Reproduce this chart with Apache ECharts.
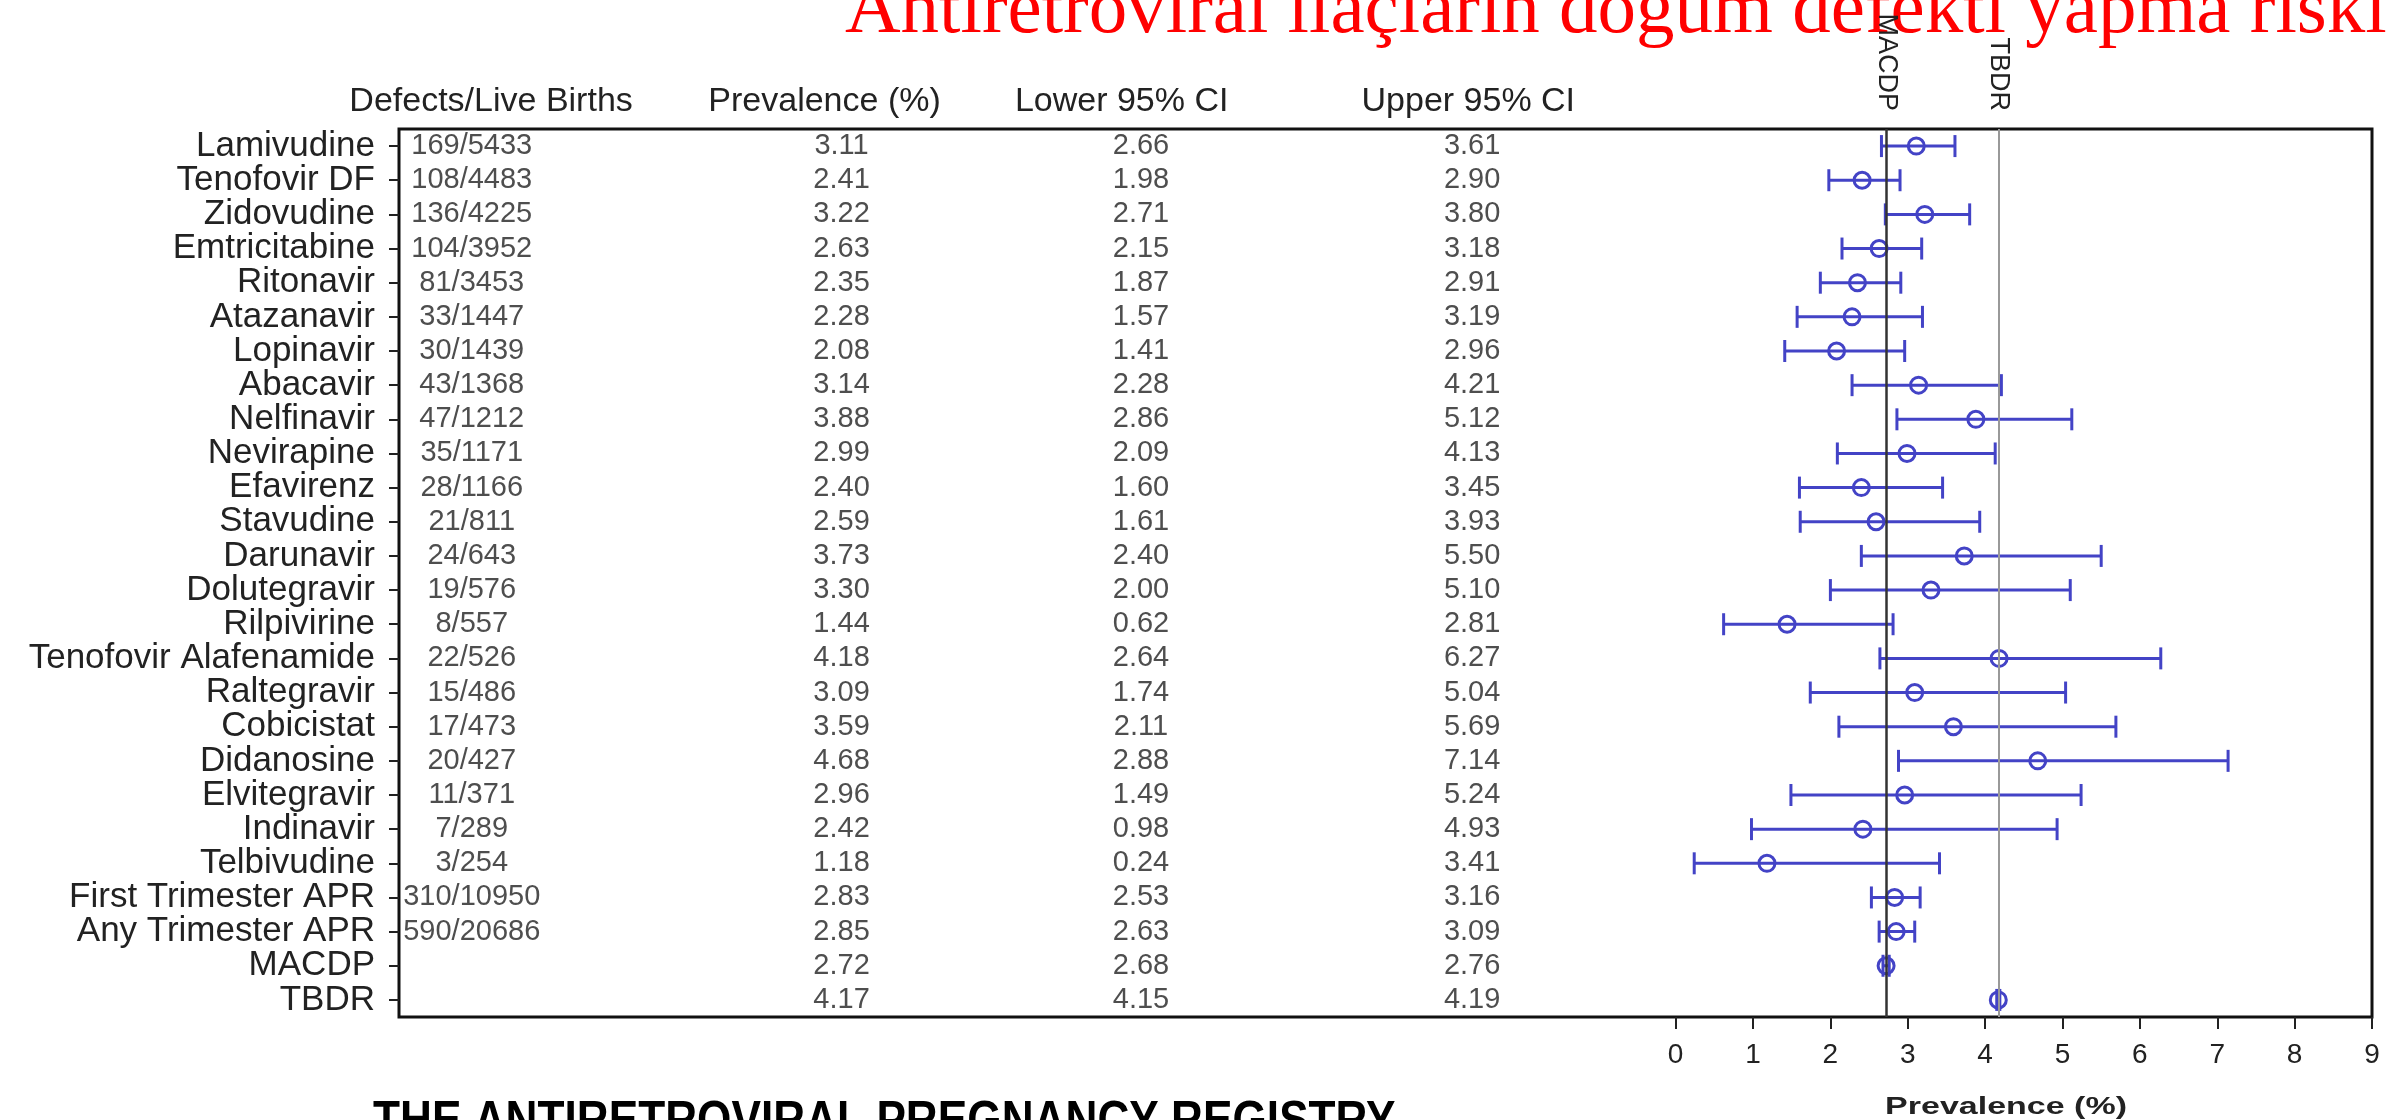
<!DOCTYPE html>
<html>
<head>
<meta charset="utf-8">
<script src="https://cdn.jsdelivr.net/npm/echarts@6/dist/echarts.min.js"></script>
<style>
  html, body { margin: 0; padding: 0; background: #fff; }
  #chart { width: 2387px; height: 1120px; }
</style>
</head>
<body>
<div id="chart"></div>
<script>
const drugs = [
  'Lamivudine', 'Tenofovir DF', 'Zidovudine', 'Emtricitabine', 'Ritonavir',
  'Atazanavir', 'Lopinavir', 'Abacavir', 'Nelfinavir', 'Nevirapine',
  'Efavirenz', 'Stavudine', 'Darunavir', 'Dolutegravir', 'Rilpivirine',
  'Tenofovir Alafenamide', 'Raltegravir', 'Cobicistat', 'Didanosine', 'Elvitegravir',
  'Indinavir', 'Telbivudine', 'First Trimester APR', 'Any Trimester APR', 'MACDP', 'TBDR'
]
const births = [
  '169/5433', '108/4483', '136/4225', '104/3952', '81/3453',
  '33/1447', '30/1439', '43/1368', '47/1212', '35/1171',
  '28/1166', '21/811', '24/643', '19/576', '8/557',
  '22/526', '15/486', '17/473', '20/427', '11/371',
  '7/289', '3/254', '310/10950', '590/20686', '', ''
]
const prevalence = [
  3.11, 2.41, 3.22, 2.63, 2.35, 2.28, 2.08, 3.14, 3.88, 2.99,
  2.40, 2.59, 3.73, 3.30, 1.44, 4.18, 3.09, 3.59, 4.68, 2.96,
  2.42, 1.18, 2.83, 2.85, 2.72, 4.17
]
const lower95 = [
  2.66, 1.98, 2.71, 2.15, 1.87, 1.57, 1.41, 2.28, 2.86, 2.09,
  1.60, 1.61, 2.40, 2.00, 0.62, 2.64, 1.74, 2.11, 2.88, 1.49,
  0.98, 0.24, 2.53, 2.63, 2.68, 4.15
]
const upper95 = [
  3.61, 2.90, 3.80, 3.18, 2.91, 3.19, 2.96, 4.21, 5.12, 4.13,
  3.45, 3.93, 5.50, 5.10, 2.81, 6.27, 5.04, 5.69, 7.14, 5.24,
  4.93, 3.41, 3.16, 3.09, 2.76, 4.19
]
const headers = ['Defects/Live Births', 'Prevalence (%)', 'Lower 95% CI', 'Upper 95% CI']
const refNames = ['MACDP', 'TBDR']
const refValues = [2.72, 4.17]
const xTicks = [0, 1, 2, 3, 4, 5, 6, 7, 8, 9]

// the table sits left of 0 on the same x scale
const X_MIN = -16.5
const X_MAX = 9
const colX = [-15.56, -10.78, -6.91, -2.63]
const headX = [-15.31, -11.0, -7.16, -2.68]

const BLUE = '#4343c6'
const INK = '#222'
const FONT = 'Liberation Sans, Arial, sans-serif'

const columns = [
  births,
  prevalence.map((v) => v.toFixed(2)),
  lower95.map((v) => v.toFixed(2)),
  upper95.map((v) => v.toFixed(2)),
]

const tableSeries = columns.map((col, c) => ({
  type: 'scatter',
  silent: true,
  symbolSize: 0,
  data: col.map((t, i) => [colX[c], i, t]),
  label: {
    show: true,
    position: 'inside',
    formatter: (p) => p.value[2],
    color: INK,
    fontSize: 29,
    fontFamily: FONT,
  },
}))

const chart = echarts.init(document.getElementById('chart'))

chart.setOption({
  backgroundColor: '#fff',
  animation: false,
  grid: {
    left: 399, right: 15, top: 129, bottom: 103,
    show: true, borderColor: '#111', borderWidth: 3,
  },
  xAxis: [
    {
      type: 'value', min: X_MIN, max: X_MAX, position: 'bottom',
      axisLine: { show: false, onZero: false },
      splitLine: { show: false },
      axisTick: { show: true, customValues: xTicks, length: 12, lineStyle: { color: INK, width: 2 } },
      axisLabel: { customValues: xTicks, color: INK, fontSize: 28, fontFamily: FONT, margin: 24 },
    },
    {
      type: 'value', min: X_MIN, max: X_MAX, position: 'top',
      axisLine: { show: false, onZero: false }, splitLine: { show: false }, axisTick: { show: false },
      axisLabel: {
        customValues: headX, color: INK, fontSize: 34, fontFamily: FONT, margin: 10,
        formatter: (v) => headers[headX.indexOf(v)] || '',
      },
    },
    {
      type: 'value', min: X_MIN, max: X_MAX, position: 'top',
      axisLine: { show: false, onZero: false }, splitLine: { show: false }, axisTick: { show: false },
      axisLabel: {
        customValues: refValues, color: INK, fontSize: 27, fontFamily: FONT, margin: 18, rotate: 90,
        formatter: (v) => refNames[refValues.indexOf(v)] || '',
      },
    },
  ],
  yAxis: {
    type: 'category',
    data: drugs,
    inverse: true,
    axisLine: { show: false, onZero: false },
    axisTick: { show: true, interval: 0, alignWithLabel: true, length: 10, lineStyle: { color: INK, width: 2 } },
    axisLabel: { interval: 0, color: INK, fontSize: 35, fontFamily: FONT, margin: 24 },
    splitLine: { show: false },
  },
  series: [
    ...tableSeries,
    {
      type: 'custom',
      silent: true,
      data: prevalence.map((p, i) => [p, i, lower95[i], upper95[i]]),
      encode: { x: 0, y: 1 },
      renderItem: (params, api) => {
        const row = api.value(1)
        const lo = api.coord([api.value(2), row])
        const hi = api.coord([api.value(3), row])
        const mid = api.coord([api.value(0), row])
        const h = 11
        const st = { stroke: BLUE, lineWidth: 3, fill: null }
        return {
          type: 'group',
          children: [
            { type: 'line', shape: { x1: lo[0], y1: lo[1], x2: hi[0], y2: hi[1] }, style: st },
            { type: 'line', shape: { x1: lo[0], y1: lo[1] - h, x2: lo[0], y2: lo[1] + h }, style: st },
            { type: 'line', shape: { x1: hi[0], y1: hi[1] - h, x2: hi[0], y2: hi[1] + h }, style: st },
            { type: 'circle', shape: { cx: mid[0], cy: mid[1], r: 8 }, style: { stroke: BLUE, lineWidth: 3, fill: 'none' } },
          ],
        }
      },
      markLine: {
        silent: true,
        symbol: 'none',
        label: { show: false },
        data: [
          { xAxis: refValues[0], lineStyle: { color: '#333', width: 2.5, type: 'solid' } },
          { xAxis: refValues[1], lineStyle: { color: '#999', width: 2, type: 'solid' } },
        ],
      },
      z: 3,
    },
  ],
})

const nameX = chart.convertToPixel({ xAxisIndex: 0 }, 4.27)

chart.setOption({
  graphic: [
    {
      type: 'text', x: 845, y: 50, z: -1,
      style: {
        text: 'Antiretroviral ilaçların doğum defekti yapma riski',
        fill: '#ff0000', fontSize: 77, fontFamily: 'Liberation Serif, Times New Roman, serif',
        verticalAlign: 'bottom',
      },
    },
    {
      type: 'text', x: nameX, y: 1107, scaleY: 0.72,
      style: {
        text: 'Prevalence (%)', fill: INK, fontSize: 34, fontWeight: 'bold', fontFamily: FONT,
        align: 'center', verticalAlign: 'middle',
      },
    },
    {
      type: 'text', x: 373, y: 1097, scaleX: 0.85,
      style: {
        text: 'THE ANTIRETROVIRAL PREGNANCY REGISTRY', fill: '#000', fontSize: 52,
        fontWeight: 'bold', fontFamily: FONT, verticalAlign: 'top',
      },
    },
  ],
})
</script>
</body>
</html>
